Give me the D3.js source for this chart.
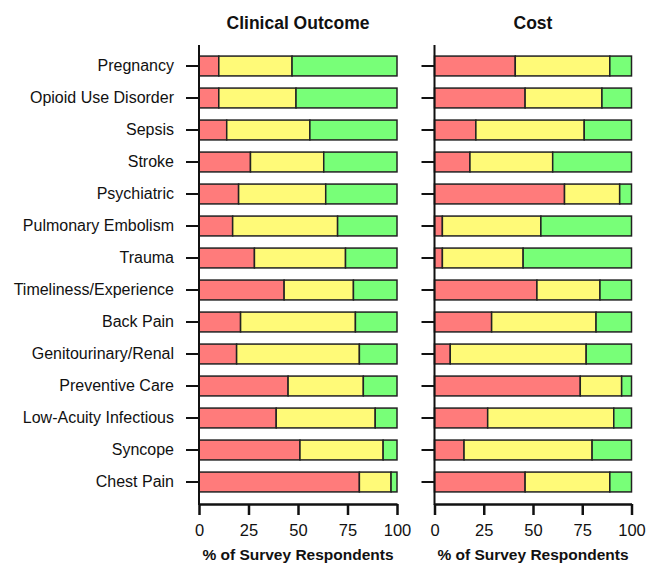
<!DOCTYPE html>
<html>
<head>
<meta charset="utf-8">
<script src="https://cdn.jsdelivr.net/npm/d3@7"></script>
<style>
  body { margin: 0; background: #fff; }
  svg { display: block; font-family: "Liberation Sans", Arial, Helvetica, sans-serif; }
</style>
</head>
<body>
<svg id="chart" width="646" height="564"></svg>
<script>
const categories = ["Pregnancy","Opioid Use Disorder","Sepsis","Stroke","Psychiatric","Pulmonary Embolism","Trauma","Timeliness/Experience","Back Pain","Genitourinary/Renal","Preventive Care","Low-Acuity Infectious","Syncope","Chest Pain"];
// Clinical Outcome: red, yellow, green shares (%)
const clinicalRed    = [10,10,14,26,20,17,28,43,21,19,45,39,51,81];
const clinicalYellow = [37,39,42,37,44,53,46,35,58,62,38,50,42,16];
const clinicalGreen  = [53,51,44,37,36,30,26,22,21,19,17,11,7,3];
// Cost
const costRed    = [41,46,21,18,66,4,4,52,29,8,74,27,15,46];
const costYellow = [48,39,55,42,28,50,41,32,53,69,21,64,65,43];
const costGreen  = [11,15,24,40,6,46,55,16,18,23,5,9,20,11];
const xTicks = [0,25,50,75,100];
const panelTitles = ["Clinical Outcome","Cost"];
const axisTitle = "% of Survey Respondents";
const colors = ["#FF7B7B","#FFFA78","#78FF78"];

const svg = d3.select("#chart");
const y = d3.scaleBand().domain(categories).range([50, 498]).paddingInner(0.38).paddingOuter(0.19);

const panels = [
  {title: panelTitles[0], series: [clinicalRed, clinicalYellow, clinicalGreen], x0: 199, x1: 397, labels: true},
  {title: panelTitles[1], series: [costRed, costYellow, costGreen], x0: 434.5, x1: 631.5, labels: false}
];

panels.forEach(p => {
  const x = d3.scaleLinear().domain([0,100]).range([p.x0, p.x1]);
  const g = svg.append("g");
  // bars
  categories.forEach((c, i) => {
    let acc = 0;
    p.series.forEach((s, k) => {
      const v = s[i];
      g.append("rect")
        .attr("x", x(acc))
        .attr("y", y(c))
        .attr("width", x(acc + v) - x(acc))
        .attr("height", y.bandwidth())
        .attr("fill", colors[k])
        .attr("stroke", "#222")
        .attr("stroke-width", 1.5);
      acc += v;
    });
  });
  // y axis
  const ya = d3.axisLeft(y).tickSize(13).tickPadding(12).tickSizeOuter(0);
  if (!p.labels) ya.tickFormat("");
  const yg = svg.append("g").attr("transform", `translate(${p.x0},0)`).call(ya);
  yg.select(".domain").remove();
  yg.selectAll(".tick line").attr("stroke", "#111").attr("stroke-width", 2);
  yg.selectAll("text").attr("font-size", 16).attr("fill", "#111")
    .attr("font-family", "'Liberation Sans', Arial, sans-serif");
  svg.append("line").attr("x1", p.x0).attr("x2", p.x0).attr("y1", 45).attr("y2", 505)
    .attr("stroke", "#111").attr("stroke-width", 2);
  // x axis
  const xa = d3.axisBottom(x).tickValues(xTicks).tickSize(11).tickPadding(9).tickSizeOuter(0);
  const xg = svg.append("g").attr("transform", `translate(0,504)`).call(xa);
  xg.select(".domain").attr("stroke", "#111").attr("stroke-width", 2.5);
  xg.selectAll(".tick line").attr("stroke", "#111").attr("stroke-width", 2.5);
  xg.selectAll("text").attr("font-size", 16.5).attr("fill", "#111")
    .attr("font-family", "'Liberation Sans', Arial, sans-serif");
  // titles
  const cx = (p.x0 + p.x1) / 2;
  svg.append("text").attr("x", cx).attr("y", 29).attr("text-anchor", "middle")
    .attr("font-size", 17.5).attr("font-weight", "bold").attr("fill", "#111").text(p.title);
  svg.append("text").attr("x", cx).attr("y", 560).attr("text-anchor", "middle")
    .attr("font-size", 15.5).attr("font-weight", "bold").attr("fill", "#111").text(axisTitle);
});
</script>
</body>
</html>
